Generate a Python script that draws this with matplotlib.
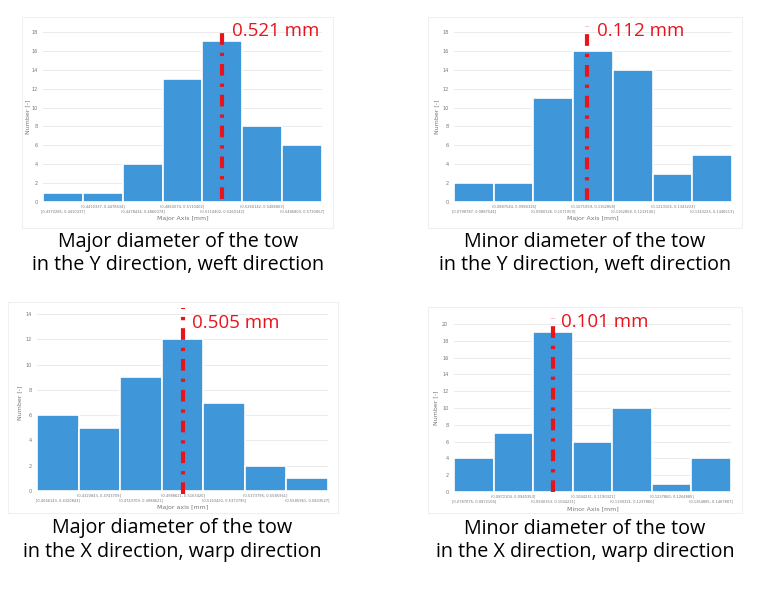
import matplotlib
matplotlib.use("Agg")
import matplotlib.pyplot as plt
from matplotlib.patches import Rectangle

# counts per bin
counts_major_y = [1, 1, 4, 13, 17, 8, 6]
counts_minor_y = [2, 2, 11, 16, 14, 3, 5]
counts_major_x = [6, 5, 9, 12, 7, 2, 1]
counts_minor_x = [4, 7, 19, 6, 10, 1, 4]

# bin edges [mm] (tick labels are illegible in the source, values approximate)
edges_major_y = [0.4370285, 0.4410337, 0.4478434, 0.4860074, 0.5110402, 0.5260142, 0.5486803, 0.5730067]
edges_minor_y = [0.0798787, 0.0887544, 0.0980326, 0.1071059, 0.1162858, 0.1213106, 0.1343223, 0.1446513]
edges_major_x = [0.4066143, 0.4320843, 0.4743709, 0.4988621, 0.5163420, 0.5373795, 0.5585961, 0.5803527]
edges_minor_x = [0.0787075, 0.0872104, 0.0940353, 0.1044231, 0.1190321, 0.1237860, 0.1264885, 0.1467807]

# mean value marked by the red line (position in bin units) and its label
mean_pos = [4.0, 2.85, 3.0, 2.0]
mean_text = ["0.521 mm", "0.112 mm", "0.505 mm", "0.101 mm"]

xlabels = ["Major Axis [mm]", "Major Axis [mm]", "Major axis [mm]", "Minor Axis [mm]"]
captions = [
    "Major diameter of the tow\nin the Y direction, weft direction",
    "Minor diameter of the tow\nin the Y direction, weft direction",
    "Major diameter of the tow\nin the X direction, warp direction",
    "Minor diameter of the tow\nin the X direction, warp direction",
]

W, H = 768, 593
BAR = "#3f97d9"
RED = "#e8141c"

fig = plt.figure(figsize=(W / 100, H / 100), dpi=100)
fig.patch.set_facecolor("white")

# pixel boxes of the plot areas: x0, x1, y_zero, y_top, ymax
boxes = [
    (43, 322, 202, 32, 18),
    (454, 732, 202, 32, 18),
    (37, 328, 491, 314, 14),
    (454, 731, 492, 324, 20),
]
line_top = [18.5, 18.6, 14.5, 20.7]
line_bot = [0.3, 0.2, -0.2, 0.0]
text_dx = [0.25, 0.25, 0.22, 0.2]
text_y = [18.1, 18.1, 13.3, 20.2]
frames = [(22, 17, 333, 228), (428, 17, 742, 228), (8, 302, 338, 513), (428, 307, 742, 513)]
caption_xy = [(178, 253), (585, 253), (172, 540), (585, 540)]
ylabel_x = [28, 437, 20, 436]

all_counts = [counts_major_y, counts_minor_y, counts_major_x, counts_minor_x]
all_edges = [edges_major_y, edges_minor_y, edges_major_x, edges_minor_x]

for i in range(4):
    fx0, fy0, fx1, fy1 = frames[i]
    fig.patches.append(Rectangle((fx0 / W, 1 - fy1 / H), (fx1 - fx0) / W, (fy1 - fy0) / H,
                                 transform=fig.transFigure, fill=False,
                                 edgecolor="#f0f0f0", linewidth=0.8))

    x0, x1, yz, yt, ymax = boxes[i]
    ax = fig.add_axes([x0 / W, 1 - yz / H, (x1 - x0) / W, (yz - yt) / H])
    counts = all_counts[i]
    edges = all_edges[i]
    pos = list(range(len(counts)))
    ax.bar(pos, counts, width=1.0, color=BAR, edgecolor="white", linewidth=1.2, zorder=2)
    ax.set_xlim(-0.5, len(counts) - 0.5)
    ax.set_ylim(0, ymax)
    ax.set_yticks(range(0, ymax + 1, 2))
    ax.grid(axis="y", color="#e8e8e8", linewidth=0.6, zorder=0)
    for s in ax.spines.values():
        s.set_visible(False)

    labels = []
    for k in range(len(counts)):
        br = "[" if k == 0 else "("
        labels.append(f"{br}{edges[k]:.7f}, {edges[k + 1]:.7f}]")
    # staggered interval labels: odd bins on the upper row, even bins below
    ax.set_xticks(pos[0::2])
    ax.set_xticklabels(labels[0::2], fontsize=2.6, color="#777777")
    ax.set_xticks(pos[1::2], minor=True)
    ax.set_xticklabels(labels[1::2], minor=True, fontsize=2.6, color="#777777")
    ax.tick_params(axis="x", which="major", length=0, pad=5.5)
    ax.tick_params(axis="x", which="minor", length=0, pad=1.5)
    ax.tick_params(axis="y", length=0, labelsize=3.6, labelcolor="#777777", pad=4)
    ax.set_xlabel(xlabels[i], fontsize=4.5, color="#777777", labelpad=2)

    fig.text(ylabel_x[i] / W, 1 - ((yz + yt) / 2) / H, "Number [-]", rotation=90,
             fontsize=4.5, color="#777777", ha="center", va="center")

    ax.plot([mean_pos[i], mean_pos[i]], [line_bot[i], line_top[i]], color=RED, linewidth=3,
            dashes=(2.8, 1.9, 0.8, 1.9), clip_on=False, zorder=3)
    ax.text(mean_pos[i] + text_dx[i], text_y[i], mean_text[i], color=RED,
            fontsize=13.5, family="Open Sans", ha="left", va="center", clip_on=False)

    cx, cy = caption_xy[i]
    fig.text(cx / W, 1 - cy / H, captions[i], fontsize=14.2, family="Open Sans",
             ha="center", va="center", linespacing=1.2, color="black")

fig.savefig("out.png", dpi=100, facecolor="white")
